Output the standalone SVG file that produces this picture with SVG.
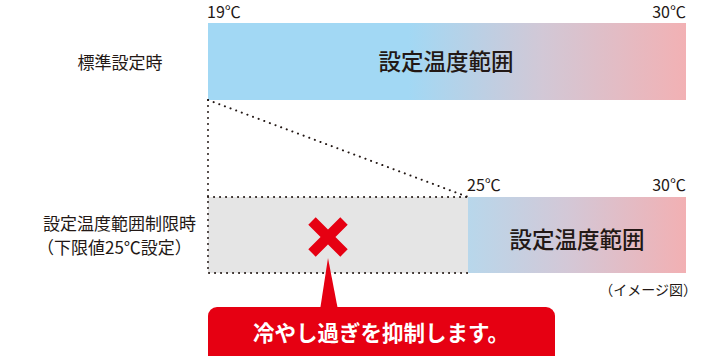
<svg xmlns="http://www.w3.org/2000/svg" width="701" height="356" viewBox="0 0 701 356">
<defs>
<linearGradient id="gTop" x1="208" y1="0" x2="686" y2="0" gradientUnits="userSpaceOnUse">
<stop offset="0" stop-color="#a2d8f4"/>
<stop offset="0.42" stop-color="#a2d8f4"/>
<stop offset="0.7" stop-color="#d2c8d6"/>
<stop offset="1" stop-color="#f2b1b4"/>
</linearGradient>
<linearGradient id="gBot" x1="468" y1="0" x2="686" y2="0" gradientUnits="userSpaceOnUse">
<stop offset="0" stop-color="#b8d7eb"/>
<stop offset="0.45" stop-color="#d3c8d7"/>
<stop offset="1" stop-color="#f2b0b3"/>
</linearGradient>
<style>
.t{font-family:"Noto Sans CJK JP","Noto Sans",sans-serif;fill:#231815;}
.lbl{font-size:17px;}
.deg{font-size:16px;}
.big{font-size:22.5px;font-weight:500;}
.dot{fill:none;stroke:#231815;stroke-width:2;stroke-linecap:round;stroke-dasharray:0.1 5.9;}
</style>
</defs>
<g id="top-bar">
<rect x="208" y="23" width="478" height="77" fill="url(#gTop)"/>
<text class="t big" x="446" y="70" text-anchor="middle">設定温度範囲</text>
<text class="t deg" x="207" y="18">19℃</text>
<text class="t deg" x="686" y="18" text-anchor="end">30℃</text>
</g>
<g id="label-standard">
<text class="t lbl" x="120" y="69" text-anchor="middle">標準設定時</text>
</g>
<g id="label-limited">
<text class="t lbl" x="43" y="230">設定温度範囲制限時</text>
<text class="t lbl" x="37" y="254">（下限値25℃設定）</text>
</g>
<g id="blocked-range">
<rect x="208" y="197" width="260" height="76" fill="#e5e5e5"/>
<path d="M312 221 L344 253 M344 221 L312 253" stroke="#e60012" stroke-width="10.5" fill="none"/>
</g>
<g id="bottom-bar">
<rect x="468" y="197" width="218" height="76" fill="url(#gBot)"/>
<text class="t big" x="577" y="248" text-anchor="middle">設定温度範囲</text>
<text class="t deg" x="467" y="191">25℃</text>
<text class="t deg" x="686" y="191" text-anchor="end">30℃</text>
</g>
<g id="connectors">
<path class="dot" d="M208 100 L208 273 L468 273"/>
<path class="dot" d="M208 197 L468 197"/>
<path class="dot" d="M208 100 L468 197"/>
</g>
<g id="callout">
<path d="M328 258 L338 310 L320 310 Z" fill="#e60012"/>
<rect x="208" y="307" width="347" height="60" rx="9" fill="#e60012"/>
<text x="381" y="341" text-anchor="middle" font-family="Noto Sans CJK JP, sans-serif" font-size="21.5" font-weight="700" fill="#ffffff">冷やし過ぎを抑制します。</text>
</g>
<g id="note">
<text class="t" x="697" y="295" text-anchor="end" font-size="14">（イメージ図）</text>
</g>
</svg>
